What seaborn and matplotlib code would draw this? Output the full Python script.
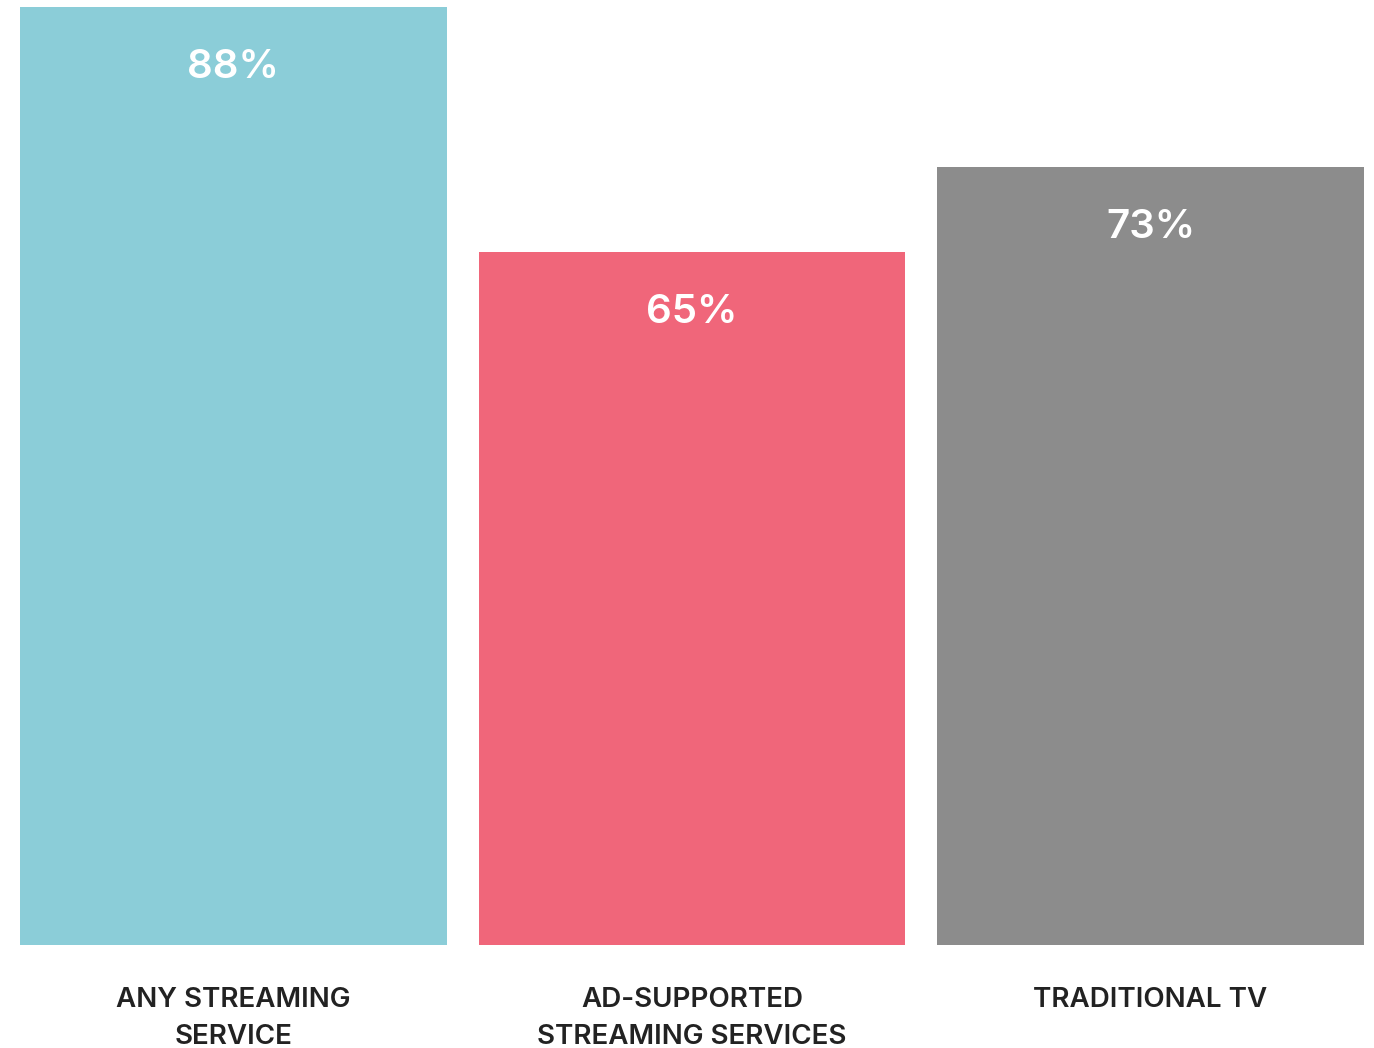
import matplotlib
matplotlib.use("Agg")
import matplotlib.pyplot as plt
import seaborn as sns
import pandas as pd

categories = ["ANY STREAMING\nSERVICE", "AD-SUPPORTED\nSTREAMING SERVICES", "TRADITIONAL TV"]
values = [88, 65, 73]
colors = ["#8BCDD8", "#F0667A", "#8C8C8C"]

sns.set_theme(style="white")
plt.rcParams["font.family"] = ["Inter", "DejaVu Sans"]

df = pd.DataFrame({"category": categories, "value": values})

W, H = 1374, 1048
fig = plt.figure(figsize=(W / 100, H / 100), dpi=100)
ax = fig.add_axes([20 / W, (H - 945) / H, 1344 / W, 938 / H])

bar_w = 0.931
sns.barplot(data=df, x="category", y="value", hue="category", palette=colors,
            width=bar_w, saturation=1, legend=False, linewidth=0, ax=ax)

ax.set_xlim(-bar_w / 2, 2 + bar_w / 2)
ax.set_ylim(0, 88)
for s in ax.spines.values():
    s.set_visible(False)
ax.set_yticks([])
ax.set_xlabel("")
ax.set_ylabel("")
ax.tick_params(axis="x", length=0, pad=30, labelsize=20, labelcolor="#222222")
for lbl in ax.get_xticklabels():
    lbl.set_fontweight("semibold")
    lbl.set_linespacing(1.55)

for i, v in enumerate(values):
    ax.annotate(f"{v}%", xy=(i, v), xytext=(0, -30), textcoords="offset points",
                ha="center", va="top", color="white", fontsize=29, fontweight="semibold")

fig.savefig("out.png", dpi=100)
